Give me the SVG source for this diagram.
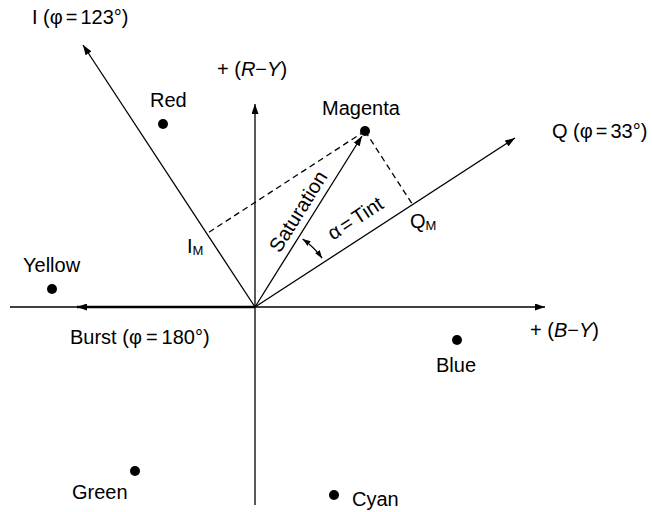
<svg xmlns="http://www.w3.org/2000/svg" width="652" height="512" viewBox="0 0 652 512">
<style>
text{font-family:"Liberation Sans",Arial,sans-serif;font-size:20px;fill:#000}
.ax{stroke:#000;stroke-width:1.3;fill:none}
.dash{stroke:#000;stroke-width:1.3;fill:none;stroke-dasharray:6 4}
.dot{fill:#000}
.sub{font-size:13px}
</style>
<defs>
<marker id="ah" viewBox="0 0 10 7" refX="10" refY="3.5" markerWidth="10" markerHeight="7" markerUnits="userSpaceOnUse" orient="auto">
<path d="M0,0 L10,3.5 L0,7 z" fill="#000"/>
</marker>
<marker id="ahs" viewBox="0 0 10 7" refX="10" refY="3.5" markerWidth="8" markerHeight="6" markerUnits="userSpaceOnUse" orient="auto-start-reverse">
<path d="M0,0 L10,3.5 L0,7 z" fill="#000"/>
</marker>
</defs>
<g id="connectors">
<line class="ax" x1="10" y1="307" x2="545" y2="307" marker-end="url(#ah)"/>
<line class="ax" x1="255" y1="505" x2="255" y2="104" marker-end="url(#ah)"/>
<line class="ax" x1="255" y1="307" x2="83" y2="45" marker-end="url(#ah)"/>
<line class="ax" x1="255" y1="307" x2="515" y2="138" marker-end="url(#ah)"/>
<line x1="255" y1="307" x2="77" y2="307" stroke="#000" stroke-width="2.6" marker-end="url(#ah)"/>
<line class="ax" x1="255" y1="307" x2="362" y2="136" marker-end="url(#ah)"/>
<line class="dash" x1="365" y1="131" x2="412.6" y2="204.6"/>
<line class="dash" x1="365" y1="131" x2="207.2" y2="233.4"/>
<path class="ax" d="M322.1,258.2 A83,83 0 0 0 302.6,239" marker-start="url(#ahs)" marker-end="url(#ahs)"/>
</g>
<g id="axis-labels">
<text x="32" y="24">I (φ<tspan dx="3">=</tspan><tspan dx="3">123°)</tspan></text>
<text x="217" y="76">+ (<tspan font-style="italic">R</tspan>−<tspan font-style="italic">Y</tspan>)</text>
<text x="552" y="138">Q (φ<tspan dx="3">=</tspan><tspan dx="3">33°)</tspan></text>
<text x="530" y="337">+ (<tspan font-style="italic">B</tspan>−<tspan font-style="italic">Y</tspan>)</text>
<text x="70" y="344">Burst (φ<tspan dx="4">=</tspan><tspan dx="4">180°)</tspan></text>
<text x="410" y="228">Q<tspan class="sub" dy="2">M</tspan></text>
<text x="187" y="253">I<tspan class="sub" dy="2">M</tspan></text>
<text x="304" y="215" text-anchor="middle" font-size="21" transform="rotate(-58 304 215)">Saturation</text>
<text x="359" y="224" text-anchor="middle" font-size="21" transform="rotate(-33 359 224)">α<tspan dx="3">=</tspan><tspan dx="3">Tint</tspan></text>
</g>
<g id="red"><circle class="dot" cx="163" cy="124" r="5"/><text x="150" y="107">Red</text></g>
<g id="magenta"><circle class="dot" cx="365" cy="131" r="5"/><text x="322" y="115">Magenta</text></g>
<g id="yellow"><circle class="dot" cx="52" cy="289" r="5"/><text x="23" y="272">Yellow</text></g>
<g id="blue"><circle class="dot" cx="457" cy="340" r="5"/><text x="436" y="372">Blue</text></g>
<g id="green"><circle class="dot" cx="135" cy="471" r="5"/><text x="72" y="499">Green</text></g>
<g id="cyan"><circle class="dot" cx="334" cy="495" r="5"/><text x="352" y="506">Cyan</text></g>
</svg>
